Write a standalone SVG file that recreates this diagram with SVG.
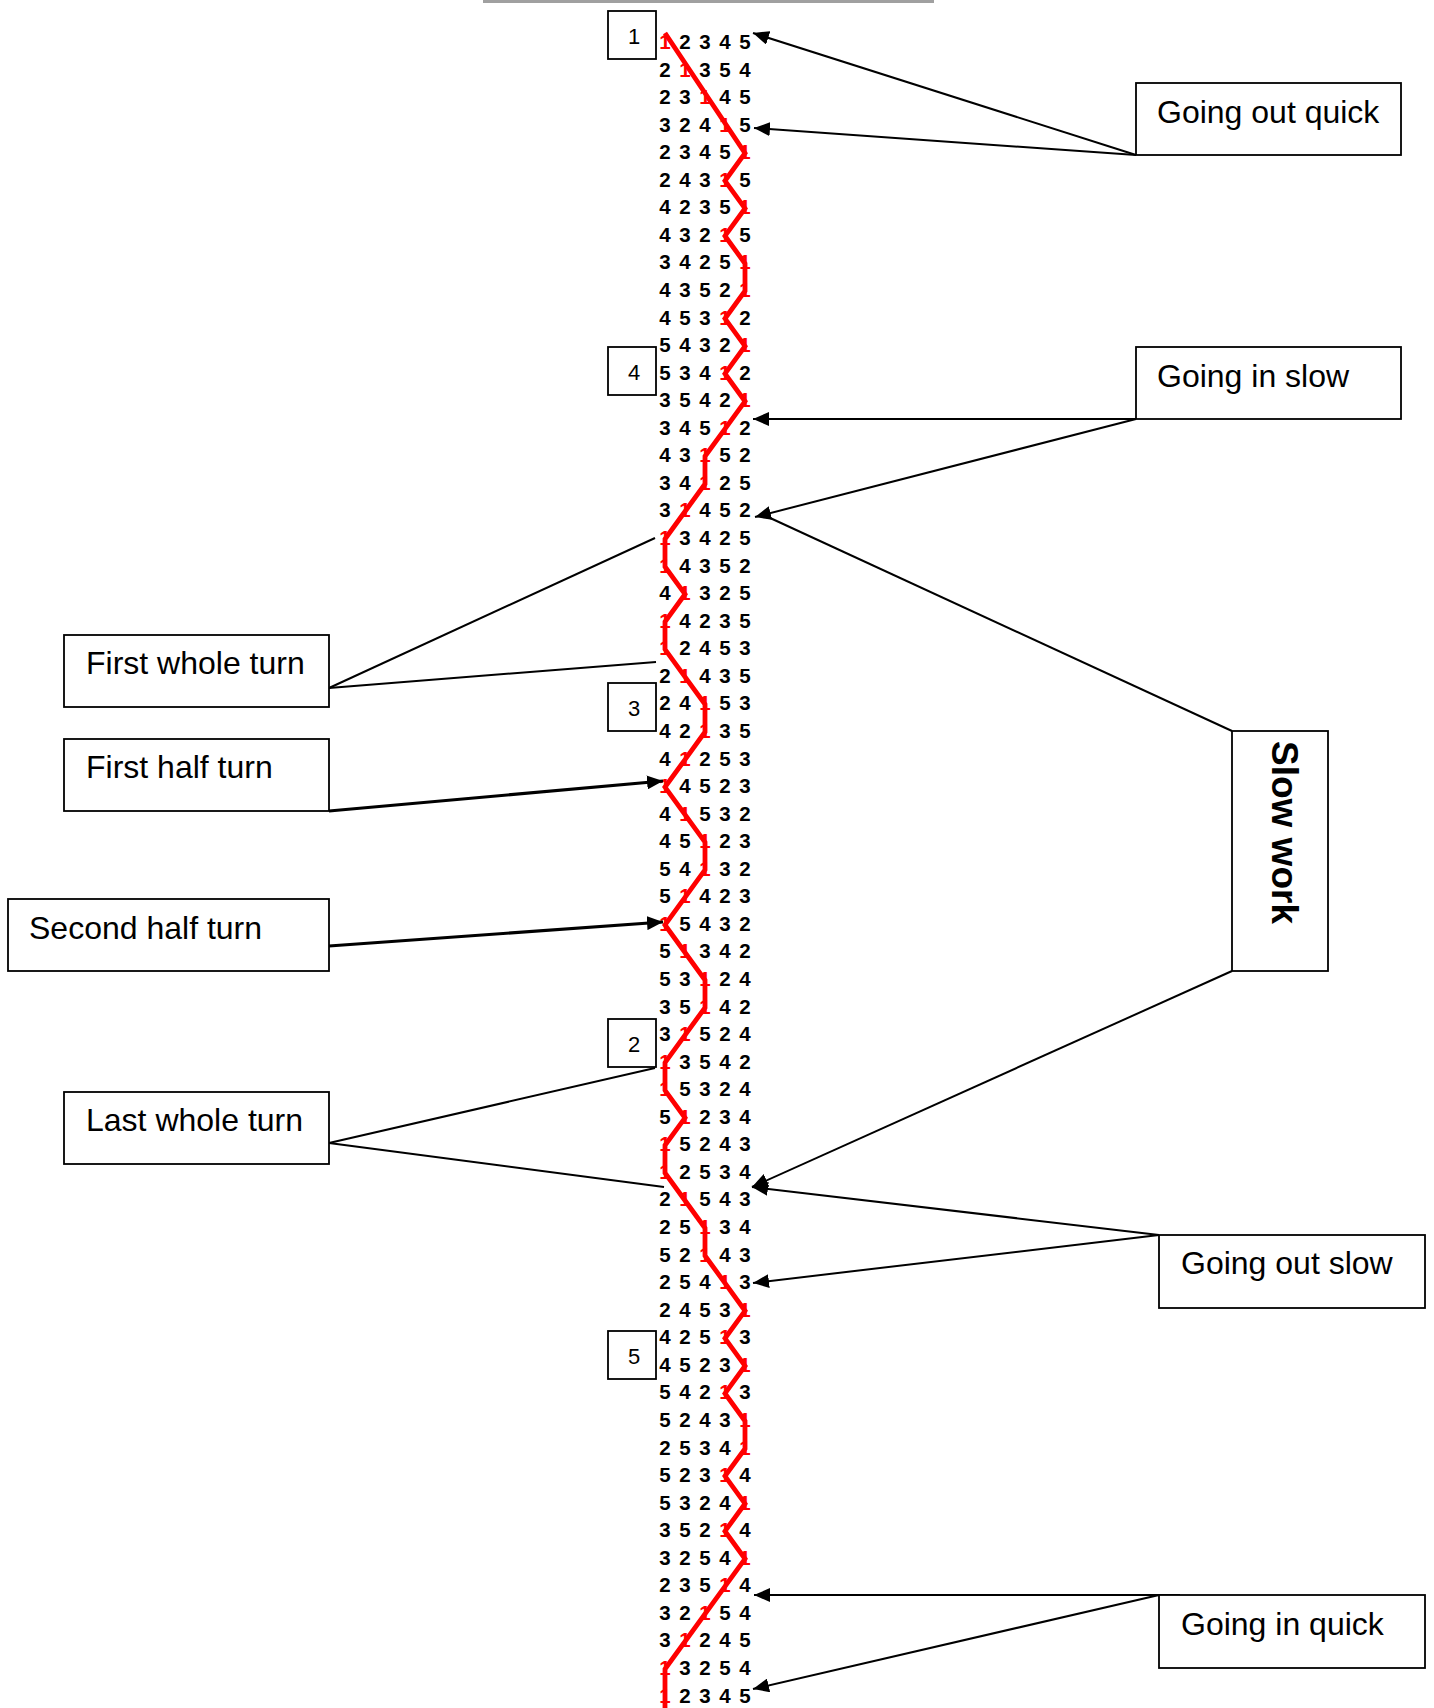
<svg xmlns="http://www.w3.org/2000/svg" width="1434" height="1708" viewBox="0 0 1434 1708">
<style>
text{font-family:"Liberation Sans",Arial,Helvetica,sans-serif;}
.box{fill:#fff;stroke:#000;stroke-width:1.8;}
.lbl{font-size:32px;fill:#000;}
.num{font-size:22px;fill:#000;text-anchor:middle;}
.row{font-size:20.5px;font-weight:bold;fill:#000;text-anchor:middle;}
.r{fill:#ff0000;}
.c{stroke:#000;stroke-width:2;fill:none;}
.t{stroke:#000;stroke-width:3.2;fill:none;}
.a{marker-end:url(#arr);}
</style>
<defs>
<marker id="arr" markerUnits="userSpaceOnUse" viewBox="0 0 16 14" refX="16" refY="7" markerWidth="16" markerHeight="14" orient="auto">
<path d="M0,0 L16,7 L0,14 z" fill="#000"/>
</marker>
</defs>
<rect x="483" y="0" width="451" height="3" fill="#a0a0a0"/>

<g id="sequence" transform="translate(0,-0.8)">
<text class="row" x="665 685 705 725 745" y="49.8"><tspan class="r">1</tspan>2345</text>
<text class="row" x="665 685 705 725 745" y="77.4">2<tspan class="r">1</tspan>354</text>
<text class="row" x="665 685 705 725 745" y="104.9">23<tspan class="r">1</tspan>45</text>
<text class="row" x="665 685 705 725 745" y="132.5">324<tspan class="r">1</tspan>5</text>
<text class="row" x="665 685 705 725 745" y="160.0">2345<tspan class="r">1</tspan></text>
<text class="row" x="665 685 705 725 745" y="187.6">243<tspan class="r">1</tspan>5</text>
<text class="row" x="665 685 705 725 745" y="215.2">4235<tspan class="r">1</tspan></text>
<text class="row" x="665 685 705 725 745" y="242.7">432<tspan class="r">1</tspan>5</text>
<text class="row" x="665 685 705 725 745" y="270.3">3425<tspan class="r">1</tspan></text>
<text class="row" x="665 685 705 725 745" y="297.8">4352<tspan class="r">1</tspan></text>
<text class="row" x="665 685 705 725 745" y="325.4">453<tspan class="r">1</tspan>2</text>
<text class="row" x="665 685 705 725 745" y="353.0">5432<tspan class="r">1</tspan></text>
<text class="row" x="665 685 705 725 745" y="380.5">534<tspan class="r">1</tspan>2</text>
<text class="row" x="665 685 705 725 745" y="408.1">3542<tspan class="r">1</tspan></text>
<text class="row" x="665 685 705 725 745" y="435.6">345<tspan class="r">1</tspan>2</text>
<text class="row" x="665 685 705 725 745" y="463.2">43<tspan class="r">1</tspan>52</text>
<text class="row" x="665 685 705 725 745" y="490.8">34<tspan class="r">1</tspan>25</text>
<text class="row" x="665 685 705 725 745" y="518.3">3<tspan class="r">1</tspan>452</text>
<text class="row" x="665 685 705 725 745" y="545.9"><tspan class="r">1</tspan>3425</text>
<text class="row" x="665 685 705 725 745" y="573.4"><tspan class="r">1</tspan>4352</text>
<text class="row" x="665 685 705 725 745" y="601.0">4<tspan class="r">1</tspan>325</text>
<text class="row" x="665 685 705 725 745" y="628.6"><tspan class="r">1</tspan>4235</text>
<text class="row" x="665 685 705 725 745" y="656.1"><tspan class="r">1</tspan>2453</text>
<text class="row" x="665 685 705 725 745" y="683.7">2<tspan class="r">1</tspan>435</text>
<text class="row" x="665 685 705 725 745" y="711.2">24<tspan class="r">1</tspan>53</text>
<text class="row" x="665 685 705 725 745" y="738.8">42<tspan class="r">1</tspan>35</text>
<text class="row" x="665 685 705 725 745" y="766.4">4<tspan class="r">1</tspan>253</text>
<text class="row" x="665 685 705 725 745" y="793.9"><tspan class="r">1</tspan>4523</text>
<text class="row" x="665 685 705 725 745" y="821.5">4<tspan class="r">1</tspan>532</text>
<text class="row" x="665 685 705 725 745" y="849.0">45<tspan class="r">1</tspan>23</text>
<text class="row" x="665 685 705 725 745" y="876.6">54<tspan class="r">1</tspan>32</text>
<text class="row" x="665 685 705 725 745" y="904.2">5<tspan class="r">1</tspan>423</text>
<text class="row" x="665 685 705 725 745" y="931.7"><tspan class="r">1</tspan>5432</text>
<text class="row" x="665 685 705 725 745" y="959.3">5<tspan class="r">1</tspan>342</text>
<text class="row" x="665 685 705 725 745" y="986.8">53<tspan class="r">1</tspan>24</text>
<text class="row" x="665 685 705 725 745" y="1014.4">35<tspan class="r">1</tspan>42</text>
<text class="row" x="665 685 705 725 745" y="1042.0">3<tspan class="r">1</tspan>524</text>
<text class="row" x="665 685 705 725 745" y="1069.5"><tspan class="r">1</tspan>3542</text>
<text class="row" x="665 685 705 725 745" y="1097.1"><tspan class="r">1</tspan>5324</text>
<text class="row" x="665 685 705 725 745" y="1124.6">5<tspan class="r">1</tspan>234</text>
<text class="row" x="665 685 705 725 745" y="1152.2"><tspan class="r">1</tspan>5243</text>
<text class="row" x="665 685 705 725 745" y="1179.8"><tspan class="r">1</tspan>2534</text>
<text class="row" x="665 685 705 725 745" y="1207.3">2<tspan class="r">1</tspan>543</text>
<text class="row" x="665 685 705 725 745" y="1234.9">25<tspan class="r">1</tspan>34</text>
<text class="row" x="665 685 705 725 745" y="1262.4">52<tspan class="r">1</tspan>43</text>
<text class="row" x="665 685 705 725 745" y="1290.0">254<tspan class="r">1</tspan>3</text>
<text class="row" x="665 685 705 725 745" y="1317.6">2453<tspan class="r">1</tspan></text>
<text class="row" x="665 685 705 725 745" y="1345.1">425<tspan class="r">1</tspan>3</text>
<text class="row" x="665 685 705 725 745" y="1372.7">4523<tspan class="r">1</tspan></text>
<text class="row" x="665 685 705 725 745" y="1400.2">542<tspan class="r">1</tspan>3</text>
<text class="row" x="665 685 705 725 745" y="1427.8">5243<tspan class="r">1</tspan></text>
<text class="row" x="665 685 705 725 745" y="1455.4">2534<tspan class="r">1</tspan></text>
<text class="row" x="665 685 705 725 745" y="1482.9">523<tspan class="r">1</tspan>4</text>
<text class="row" x="665 685 705 725 745" y="1510.5">5324<tspan class="r">1</tspan></text>
<text class="row" x="665 685 705 725 745" y="1538.0">352<tspan class="r">1</tspan>4</text>
<text class="row" x="665 685 705 725 745" y="1565.6">3254<tspan class="r">1</tspan></text>
<text class="row" x="665 685 705 725 745" y="1593.2">235<tspan class="r">1</tspan>4</text>
<text class="row" x="665 685 705 725 745" y="1620.7">32<tspan class="r">1</tspan>54</text>
<text class="row" x="665 685 705 725 745" y="1648.3">3<tspan class="r">1</tspan>245</text>
<text class="row" x="665 685 705 725 745" y="1675.8"><tspan class="r">1</tspan>3254</text>
<text class="row" x="665 685 705 725 745" y="1703.4"><tspan class="r">1</tspan>2345</text>
</g>

<g id="path-of-1">
<polyline fill="none" stroke="#ff0000" stroke-width="4.8" stroke-linejoin="miter" stroke-miterlimit="10" points="665,33 745,153.2 725,180.8 745,208.4 725,235.9 745,263.5 745,291.0 725,318.6 745,346.2 725,373.7 745,401.3 725,428.8 705,456.4 705,484.0 685,511.5 665,539.1 665,566.6 685,594.2 665,621.8 665,649.3 685,676.9 705,704.4 705,732.0 685,759.6 665,787.1 685,814.7 705,842.2 705,869.8 685,897.4 665,924.9 685,952.5 705,980.0 705,1007.6 685,1035.2 665,1062.7 665,1090.3 685,1117.8 665,1145.4 665,1173.0 685,1200.5 705,1228.1 705,1255.6 725,1283.2 745,1310.8 725,1338.3 745,1365.9 725,1393.4 745,1421.0 745,1448.6 725,1476.1 745,1503.7 725,1531.2 745,1558.8 725,1586.4 665,1669.0 665,1708"/>
</g>

<g id="connectors">
<line class="c a" x1="1136" y1="155" x2="753" y2="33"/>
<line class="c a" x1="1136" y1="155" x2="754" y2="128"/>
<line class="c a" x1="1136" y1="419" x2="753" y2="419"/>
<line class="c a" x1="1136" y1="419" x2="755" y2="517"/>
<line class="c" x1="1232" y1="731" x2="768" y2="517"/>
<line class="c a" x1="1232" y1="971" x2="752" y2="1187"/>
<line class="c a" x1="1159" y1="1235" x2="752" y2="1187"/>
<line class="c a" x1="1159" y1="1235" x2="753" y2="1283"/>
<line class="c a" x1="1180" y1="1595" x2="754" y2="1595"/>
<line class="c a" x1="1159" y1="1595" x2="753" y2="1689"/>
<line class="c" x1="329" y1="688" x2="655" y2="538"/>
<line class="c" x1="329" y1="688" x2="656" y2="662"/>
<line class="t a" x1="329" y1="811" x2="663" y2="781"/>
<line class="t a" x1="329" y1="946" x2="663" y2="922"/>
<line class="c" x1="329" y1="1143" x2="655" y2="1068"/>
<line class="c" x1="329" y1="1143" x2="664" y2="1187"/>
</g>

<g id="marker-1"><rect class="box" x="608" y="11" width="48" height="48"/><text class="num" x="634" y="44">1</text></g>
<g id="marker-4"><rect class="box" x="608" y="347" width="48" height="48"/><text class="num" x="634" y="380">4</text></g>
<g id="marker-3"><rect class="box" x="608" y="683" width="48" height="48"/><text class="num" x="634" y="716">3</text></g>
<g id="marker-2"><rect class="box" x="608" y="1019" width="48" height="48"/><text class="num" x="634" y="1052">2</text></g>
<g id="marker-5"><rect class="box" x="608" y="1331" width="48" height="48"/><text class="num" x="634" y="1364">5</text></g>

<g id="going-out-quick"><rect class="box" x="1136" y="83" width="265" height="72"/><text class="lbl" x="1157" y="123">Going out quick</text></g>
<g id="going-in-slow"><rect class="box" x="1136" y="347" width="265" height="72"/><text class="lbl" x="1157" y="387">Going in slow</text></g>
<g id="slow-work"><rect class="box" x="1232" y="731" width="96" height="240"/><text transform="translate(1272,741) rotate(90)" x="0" y="0" style="font-size:37px;font-weight:bold;fill:#000">Slow work</text></g>
<g id="going-out-slow"><rect class="box" x="1159" y="1235" width="266" height="73"/><text class="lbl" x="1181" y="1274">Going out slow</text></g>
<g id="going-in-quick"><rect class="box" x="1159" y="1595" width="266" height="73"/><text class="lbl" x="1181" y="1635">Going in quick</text></g>
<g id="first-whole-turn"><rect class="box" x="64" y="635" width="265" height="72"/><text class="lbl" x="86" y="674">First whole turn</text></g>
<g id="first-half-turn"><rect class="box" x="64" y="739" width="265" height="72"/><text class="lbl" x="86" y="778">First half turn</text></g>
<g id="second-half-turn"><rect class="box" x="8" y="899" width="321" height="72"/><text class="lbl" x="29" y="939">Second half turn</text></g>
<g id="last-whole-turn"><rect class="box" x="64" y="1092" width="265" height="72"/><text class="lbl" x="86" y="1131">Last whole turn</text></g>
</svg>
